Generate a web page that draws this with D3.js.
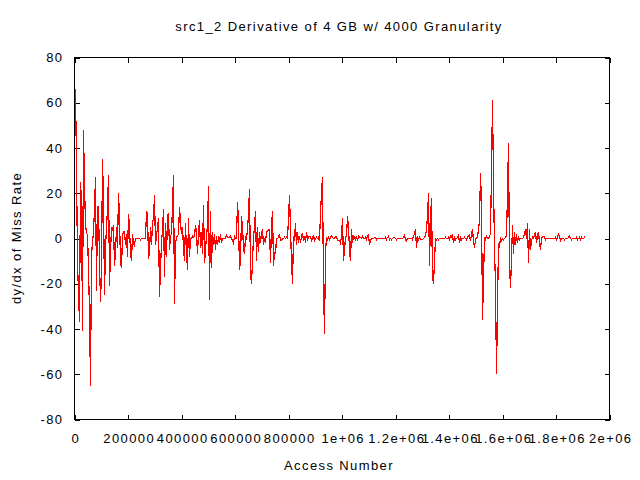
<!DOCTYPE html>
<html>
<head>
<meta charset="utf-8">
<script src="https://cdn.jsdelivr.net/npm/d3@7"></script>
<style>
  body { margin: 0; background: #fff; }
  text { font-family: "Liberation Sans", Arial, sans-serif; }
</style>
</head>
<body>
<script>
document.addEventListener("DOMContentLoaded", () => {

  // access number spacing between samples along x
  const accessStep = 3740;

  // dy/dx of miss rate, one sample per step
  const derivative = [
    66, 32, -11, -24, -37, 25, 16, -41, 48, 24,
    6, 2.5, 1.5, -13, -32, -65, -7, -2, 3, 13,
    27, -23, 14, 14, -10, -28, -14, 35, 17, -25,
    -3, 4, 14, 28, -21, -6, 5, 4, 6, -12,
    -6, 5, -4, 20, 10, -11, -13, 1, 3, 3,
    -3, 2, -8, 11, 5, -6, -10, 2, -2, -3,
    0, 0, 0, 0, 0, -0.5, 0, 0, 0, 0,
    0, 12, 11, -9, -6, 5, -3, 7, 9, 19,
    -3, 2, 4, 9, -26, -13, -2, 4, 13, -17,
    7, -8, 10, 11, -5, 1, 2, 14, 28, -29,
    -2, 0.5, 1, 2, 14, 7, 2, 5, -4, -10,
    7, -6, -14, 9, -8, 0, 0, 1, 0.5, 1,
    6, 3, -7, 3, 8, -4, 3, -7, 15, -11,
    -5, 1, 6, 23, -27, 12, -13, 3, -3, 2,
    -5, 1, -3, 1, -2, 2, -2, 0, 0, 0,
    0, 1.5, 0.5, 0.5, 0.5, 1, 0, -1, -2, 1,
    0, 0, 16, 8, -14, -9, 10, 5, -4, -7,
    1, 0, 4, 11, 22, -16, -20, -10, 1, 5,
    12, -10, 5, -6, 3, -2, 2, 4, -3, 0,
    -2, 3, 3, 4, 4, -11, 6, 12, -12, -6,
    -7, 0, 0, 0.5, 2, -1, -1, 0, 0, 0.5,
    0, 0.5, 0, 9, 19, 4, -10, -20, 1, -1,
    7, -3, 3, -2, 1, -2, 1, 2.5, -1, 1,
    -2, 3, -1, 0.5, 1, 1, -1, 0, 1.5, -1,
    0, 0.5, 0, 0.5, -1, 11, 20, 27, -21, -42,
    -6, 0.5, -1, 1, -1, 0.5, 1, 0.5, 0, 0,
    1, 1, -1, -1, -1, -2, 1, 9, -10, -5,
    0.5, 1, 10, 5, -5, -10, 4, -2, 1, 0.5,
    -0.5, 1, -1, 1, 0.5, 0.5, 0, 1, 0, 0,
    0.5, -0.5, 1, 2, -3, -1, 0, 0, 0, 0.5,
    0.5, -0.5, 0, 0, 0, 0, 0, 0, 0, 0,
    0.5, -0.5, 0, 1, -0.5, 0, -0.5, 0, 0.5, 0.5,
    0, -0.5, 0, 0, 0, 0, 0, 0, 0.5, 1.5,
    -0.5, -1, 0, 0, 0, 0, 0, -0.5, 1, 2,
    4, -4, 1, -1, 0.5, -0.5, -0.5, -0.5, 0, 0.5,
    1, 4, 10, 20, -12, 9, 18, -17, -20, -10,
    0, -0.5, 0, -0.5, 0, 0, 0, 0, 0, 0,
    0.5, 0, 0, 0.5, -0.5, 1, 0.5, 2, -2, 0.5,
    -0.5, 0, 0.5, 1.5, -2, 0.5, -0.5, 0, 0, 0.5,
    0, -0.5, 0.5, 1, 1.5, -1, 2, 4, -1, -4,
    -0.5, 0.5, 0.5, 4, 8, 29, 15, -36, -18, 0.5,
    -0.5, 1, 0, 0, 1, 2, 30, 61, 25, -4,
    -21, -60, -30, -2, -4, 0.5, -1, 0, -0.5, 0,
    0.5, 1, 20, 42, -11, -22, -9, 6, -7, 3,
    -3, 2, -2, 1, -0.5, 0, 0, 0, 0.5, 2,
    4, 0, 7, -11, 4, -5, -1, 0.5, 0, 1.5,
    3, -2, 1, 3, -2, -5, 0, 1, 1, 0.5,
    -0.5, 0, 0, 0, 0, 0, 0, 0, 0, 0,
    0.5, -0.5, 0.5, 2, 1, -1, 0, 0, 0, -0.5,
    0, 0, 0, 0.5, 1, 0, -0.5, 0, 0, 0,
    0, 0.5, -0.5, 0, 0.5, -0.5, 0.5, 0, 0, 0.5,
    0
  ];

  const xTicks = [0, 200000, 400000, 600000, 800000, 1000000, 1200000, 1400000, 1600000, 1800000, 2000000];
  const xTickLabels = ["0", "200000", "400000", "600000", "800000", "1e+06", "1.2e+06", "1.4e+06", "1.6e+06", "1.8e+06", "2e+06"];
  const yTicks = [-80, -60, -40, -20, 0, 20, 40, 60, 80];

  const w = 640;
  const h = 480;
  const left = 74.5, right = 609.5, top = 57.5, bottom = 419.5;
  const fontSize = 13;
  const spacing = 1.4;

  const svg = d3.select("body")
  .append("svg")
  .attr("width", w)
  .attr("height", h);

  const x = d3.scaleLinear().domain([0, 2000000]).range([left, right]);
  const y = d3.scaleLinear().domain([-80, 80]).range([bottom, top]);

  const styleAxis = (g) => {
    g.select(".domain").remove();
    g.selectAll("line").attr("stroke", "#000").attr("shape-rendering", "crispEdges");
    g.selectAll("text")
    .attr("fill", "#000")
    .style("font-family", "'Liberation Sans', Arial, sans-serif")
    .style("font-size", fontSize + "px")
    .style("letter-spacing", spacing + "px");
  };

  // bottom axis with labels, ticks pointing inward
  svg.append("g")
  .attr("transform", `translate(0,${bottom})`)
  .call(d3.axisBottom(x).tickValues(xTicks).tickFormat((d, i) => xTickLabels[i]).tickSize(-5).tickPadding(14))
  .call(styleAxis)
  .selectAll("text").attr("dx", spacing / 2);

  svg.append("g")
  .attr("transform", `translate(0,${top})`)
  .call(d3.axisTop(x).tickValues(xTicks).tickFormat("").tickSize(-5))
  .call(styleAxis);

  svg.append("g")
  .attr("transform", `translate(${left},0)`)
  .call(d3.axisLeft(y).tickValues(yTicks).tickFormat((d) => String(d)).tickSize(-5).tickPadding(11))
  .call(styleAxis);

  svg.append("g")
  .attr("transform", `translate(${right},0)`)
  .call(d3.axisRight(y).tickValues(yTicks).tickFormat("").tickSize(-5))
  .call(styleAxis);

  // frame
  svg.append("rect")
  .attr("x", left)
  .attr("y", top)
  .attr("width", right - left)
  .attr("height", bottom - top)
  .attr("fill", "none")
  .attr("stroke", "#000")
  .attr("shape-rendering", "crispEdges");

  // points sit on pixel centres; aliased stroke mimics the raster original
  const line = d3.line()
  .x((d, i) => Math.floor(x((i + 1) * accessStep)) + 0.5)
  .y((d) => y(d));

  svg.append("path")
  .datum(derivative)
  .attr("d", line)
  .attr("fill", "none")
  .attr("stroke", "#ff0000")
  .attr("stroke-width", 1.2)
  .attr("shape-rendering", "crispEdges");

  svg.append("text")
  .attr("x", 339)
  .attr("y", 31)
  .attr("text-anchor", "middle")
  .style("font-size", fontSize + "px")
  .style("letter-spacing", spacing + "px")
  .text("src1_2 Derivative of 4 GB w/ 4000 Granularity");

  svg.append("text")
  .attr("x", 339)
  .attr("y", 470)
  .attr("text-anchor", "middle")
  .style("font-size", fontSize + "px")
  .style("letter-spacing", spacing + "px")
  .text("Access Number");

  svg.append("text")
  .attr("transform", "translate(21,238) rotate(-90)")
  .attr("text-anchor", "middle")
  .style("font-size", fontSize + "px")
  .style("letter-spacing", spacing + "px")
  .text("dy/dx of Miss Rate");

});
</script>
</body>
</html>
